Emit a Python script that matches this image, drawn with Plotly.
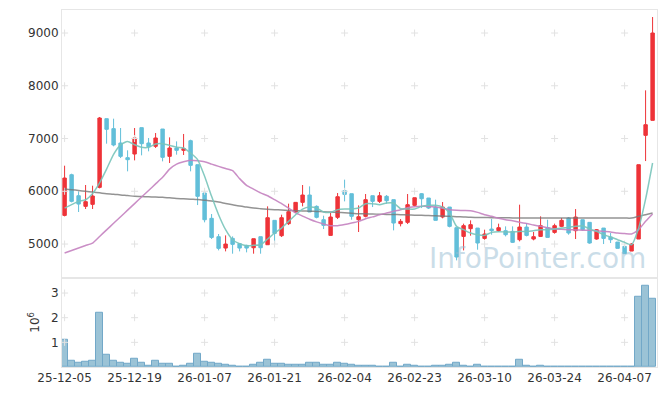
import plotly.graph_objects as go
from plotly.subplots import make_subplots

# ---- data ----
months = [
    ("25-12", ["05","08","09","10","11","12","15","16","17","18","19","22","23","24","26","29","30"]),
    ("26-01", ["02","05","06","07","08","09","12","13","14","15","16","19","20","21","22","23","26","27","28","29","30"]),
    ("26-02", ["02","03","04","05","06","09","10","11","12","13","19","20","23","24","25","26","27"]),
    ("26-03", ["03","04","05","06","09","10","11","12","13","16","17","18","19","20","23","24","25","26","27","30","31"]),
    ("26-04", ["01","02","03","06","07","08","09","10","13"]),
]
dates = [f"{m}-{d}" for m, ds in months for d in ds]

open_ = [5543,6314,5916,5714,5752,6074,7376,7187,6915,6637,6706,7206,6915,6852,7180,6662,6820,6776,6959,6504,
         5967,5487,5139,4924,5107,5006,4975,4930,5139,4987,5449,5158,5386,5607,5790,5929,5714,5461,5164,5506,
         6011,5954,5461,5525,5916,5809,5904,5841,5386,5411,5733,5954,5872,5701,5512,5701,5310,5145,5291,5303,
         5107,5284,5253,5253,5240,5082,5322,5095,5145,5310,5221,5335,5493,5253,5461,5411,5095,5303,5133,5038,
         4956,4867,5095,7060,7344]
high = [6485,6333,5998,6119,6106,7408,7376,7376,7199,6776,7199,7206,7010,7104,7180,7022,6946,7086,6978,6504,
        5967,5569,5190,5164,5145,5019,4987,5101,5139,5714,5449,5556,5765,5790,6119,6093,5733,5537,5600,5967,
        6220,5954,5733,5948,5916,5986,5929,5841,5474,5948,5878,5967,5872,5841,5796,5701,5310,5386,5449,5303,
        5272,5474,5386,5335,5335,5746,5398,5228,5525,5461,5386,5493,5512,5663,5461,5411,5284,5303,5209,5038,
        4956,5019,6504,7913,9303]
low = [5524,5790,5607,5664,5664,6055,6902,6852,6630,6378,6586,6681,6757,6820,6567,6536,6694,6688,6378,5739,
       5411,5095,4880,4861,4817,4861,4842,4817,4817,4987,5000,5133,5360,5588,5714,5607,5487,5284,5164,5474,
       5809,5461,5228,5506,5701,5777,5765,5259,5335,5379,5714,5682,5664,5449,5487,5316,4690,4880,5158,4893,
       5082,5177,5228,5145,5019,5051,5145,5070,5133,5126,5196,5322,5177,5095,5253,5006,5082,5000,5019,4918,
       4817,4867,5095,6573,7344]
close = [6251,5809,5758,5803,5910,7389,7174,6877,6662,6599,7010,6902,6845,7010,6643,6820,6776,6808,6491,5904,
         5461,5126,4918,5000,4994,4924,4924,5101,4930,5499,5202,5499,5613,5790,5929,5607,5506,5354,5512,5897,
         5941,5525,5518,5841,5809,5916,5821,5398,5430,5746,5878,5859,5682,5449,5701,5335,4754,5348,5367,5019,
         5190,5253,5310,5177,5032,5322,5164,5139,5348,5126,5348,5449,5209,5512,5272,5019,5272,5107,5082,4918,
         4817,5000,6504,7262,9000]

ma5 = [5682,5746,5809,5840,5960,6160,6420,6700,6880,6945,6883,6833,6833,6896,6902,6870,6833,6820,6725,6600,
       6283,5904,5556,5272,5082,5006,4968,4975,4987,5095,5209,5303,5430,5556,5663,5701,5682,5607,5600,5651,
       5663,5663,5682,5765,5765,5746,5777,5777,5670,5663,5663,5714,5733,5733,5701,5588,5335,5272,5209,5177,
       5164,5221,5234,5228,5228,5240,5240,5253,5272,5272,5284,5303,5316,5335,5348,5284,5240,5177,5133,5082,
       5032,4987,5300,5850,6536]
ma20 = [4829,4877,4925,4972,5019,5144,5268,5393,5517,5642,5766,5891,6015,6140,6264,6420,6515,6560,6590,6580,
        6560,6515,6472,6430,6390,6240,6112,6040,5970,5916,5840,5765,5680,5590,5530,5470,5420,5380,5348,5348,
        5370,5398,5430,5480,5515,5555,5588,5620,5651,5690,5705,5714,5712,5701,5680,5651,5640,5635,5632,5600,
        5556,5525,5490,5461,5440,5411,5390,5360,5335,5310,5284,5280,5272,5268,5263,5259,5252,5240,5228,5209,
        5200,5190,5272,5430,5569]
ma_long = [6043,6030,6015,6000,5985,5970,5955,5945,5930,5918,5905,5900,5895,5892,5885,5875,5865,5858,5850,5843,
           5830,5815,5796,5770,5745,5720,5700,5682,5670,5660,5652,5645,5638,5632,5627,5622,5617,5612,5607,5600,
           5592,5584,5575,5572,5569,5565,5562,5559,5556,5552,5548,5544,5540,5535,5530,5525,5518,5512,5506,5504,
           5502,5500,5499,5497,5495,5493,5493,5493,5493,5493,5493,5493,5493,5493,5493,5493,5493,5493,5493,5493,
           5493,5493,5525,5555,5588]

volume_m = [1.12,0.26,0.19,0.23,0.26,2.22,0.50,0.26,0.19,0.14,
            0.34,0.18,0.05,0.26,0.14,0.14,0.02,0.05,0.14,0.54,
            0.22,0.18,0.14,0.10,0.05,0.02,0.02,0.10,0.18,0.30,
            0.14,0.14,0.10,0.10,0.10,0.18,0.18,0.10,0.10,0.18,
            0.14,0.10,0.05,0.05,0.05,0.02,0.02,0.18,0.02,0.10,
            0.05,0.02,0.02,0.05,0.05,0.10,0.18,0.05,0.02,0.10,
            0.02,0.02,0.02,0.02,0.02,0.30,0.05,0.02,0.05,0.02,
            0.02,0.02,0.02,0.02,0.0,0.02,0.0,0.02,0.02,0.02,
            0.0,0.02,2.83,3.28,2.75]

tick_dates = dates[::10]
price_ticks = [5000, 6000, 7000, 8000, 9000]
vol_ticks = [1, 2, 3]

# ---- figure ----
FONT = "DejaVu Sans"
fig = make_subplots(rows=2, cols=1, shared_xaxes=True, vertical_spacing=0,
                    row_heights=[0.75, 0.25])

fig.add_trace(go.Candlestick(
    x=dates, open=open_, high=high, low=low, close=close,
    increasing=dict(line=dict(color="#ee3338", width=1), fillcolor="#ee3338"),
    decreasing=dict(line=dict(color="#62bfd9", width=1), fillcolor="#62bfd9"),
    whiskerwidth=0), row=1, col=1)

fig.add_trace(go.Bar(x=dates, y=volume_m, width=0.98,
                     marker=dict(color="rgba(150,192,212,0.95)", line=dict(color="#72a8c8", width=1))),
              row=2, col=1)

# grid "+" marks
fig.add_trace(go.Scatter(
    x=[d for d in tick_dates for _ in price_ticks],
    y=[p for _ in tick_dates for p in price_ticks],
    mode="markers", hoverinfo="skip",
    marker=dict(symbol="cross-thin", size=5, line=dict(color="#e2e2e2", width=1))), row=1, col=1)
fig.add_trace(go.Scatter(
    x=[d for d in tick_dates for _ in vol_ticks],
    y=[v for _ in tick_dates for v in vol_ticks],
    mode="markers", hoverinfo="skip",
    marker=dict(symbol="cross-thin", size=5, line=dict(color="#e2e2e2", width=1))), row=2, col=1)

fig.add_trace(go.Scatter(x=dates, y=ma_long, mode="lines",
                         line=dict(color="rgba(120,120,120,0.8)", width=1.5, shape="spline")), row=1, col=1)
fig.add_trace(go.Scatter(x=dates, y=ma20, mode="lines",
                         line=dict(color="rgba(196,130,192,0.9)", width=1.5, shape="spline", smoothing=0.5)), row=1, col=1)
fig.add_trace(go.Scatter(x=dates, y=ma5, mode="lines",
                         line=dict(color="rgba(120,196,186,0.9)", width=1.5, shape="spline", smoothing=0.6)), row=1, col=1)

fig.add_annotation(text="InfoPointer.com", xref="paper", yref="paper", x=0.985, y=0.305,
                   xanchor="right", yanchor="middle", showarrow=False,
                   font=dict(family=FONT, size=28, color="rgba(150,188,210,0.5)"))

axis_common = dict(showline=True, linecolor="#e6e6e6", linewidth=1, mirror=True,
                   showgrid=False, zeroline=False, ticks="", automargin=False)
fig.update_xaxes(type="category", categoryorder="array", categoryarray=dates,
                 range=[-0.37, 84.63], rangeslider_visible=False,
                 tickvals=tick_dates, ticktext=tick_dates, tickangle=0, **axis_common)
fig.update_xaxes(showticklabels=False, row=1, col=1)
fig.update_xaxes(showticklabels=True, row=2, col=1, tickfont=dict(family=FONT, size=12, color="#333"))
fig.update_yaxes(range=[4361, 9436], tickvals=price_ticks, row=1, col=1,
                 tickfont=dict(family=FONT, size=12, color="#333"), **axis_common)
fig.update_yaxes(range=[0, 3.62], tickvals=vol_ticks, row=2, col=1,
                 tickfont=dict(family=FONT, size=12, color="#333"),
                 title=dict(text="10<sup>6</sup>", font=dict(family=FONT, size=12, color="#333"), standoff=8),
                 **axis_common)

fig.update_layout(width=665, height=396, margin=dict(l=62, r=8, t=10, b=29, autoexpand=False),
                  paper_bgcolor="white", plot_bgcolor="white", showlegend=False,
                  boxgap=0.3, bargap=0, font=dict(family=FONT))

fig.write_html("out.html", config={"displayModeBar": False},
               post_script="document.body.style.margin='0';document.body.style.padding='0';")
